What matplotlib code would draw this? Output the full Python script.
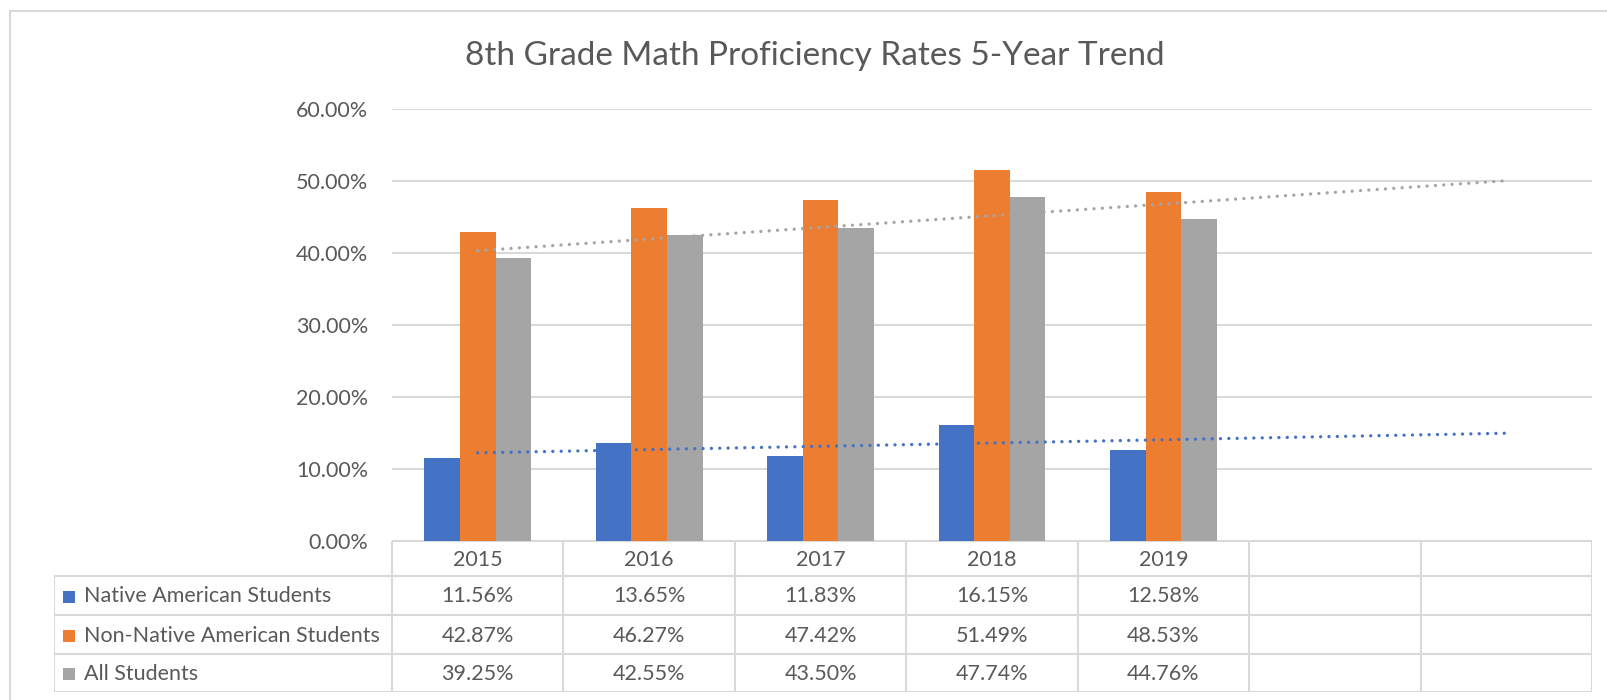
"""8th grade math proficiency: grouped bars + linear trends + Excel-style data table."""
import numpy as np
import matplotlib
matplotlib.use("Agg")
import matplotlib.pyplot as plt
from matplotlib.patches import Rectangle

plt.rcParams["font.family"] = ["Lato", "DejaVu Sans"]
plt.rcParams["lines.scale_dashes"] = False

years = ["2015", "2016", "2017", "2018", "2019"]
n_slots = 7  # Excel left two empty categories for the trend forecast
series = ["Native American Students", "Non-Native American Students", "All Students"]
native = [11.56, 13.65, 11.83, 16.15, 12.58]
non_native = [42.87, 46.27, 47.42, 51.49, 48.53]
all_students = [39.25, 42.55, 43.50, 47.74, 44.76]
values = [native, non_native, all_students]
colors = ["#4472C4", "#ED7D31", "#A5A5A5"]
trend_for = [0, 2]  # series with a linear trendline

TXT = "#595959"
GRID = "#D9D9D9"
W, H = 1608, 700

fig = plt.figure(figsize=(W / 100, H / 100), dpi=100)


def px_axes(x0, y0, x1, y1):
    # pixel box (top-left origin) -> figure axes
    return fig.add_axes([x0 / W, 1 - y1 / H, (x1 - x0) / W, (y1 - y0) / H])


# outer chart border (chart is cropped on right/bottom)
fig.patches.append(Rectangle((10 / W, -0.1), 2, 1 - 11 / H + 0.1, transform=fig.transFigure,
                             fc="none", ec=GRID, lw=1.5))

# --- plot area ---
L, R, T, B = 392, 1592, 109, 541
ax = px_axes(L, T, R, B)
ax.set_xlim(-0.5, n_slots - 0.5)
ax.set_ylim(0, 60)
for s in ax.spines.values():
    s.set_visible(False)
ax.set_yticks(np.arange(0, 61, 10))
ax.set_yticklabels(["%.2f%%" % v for v in np.arange(0, 61, 10)], fontsize=15.5, color=TXT)
ax.tick_params(axis="y", length=0, pad=17)
ax.set_xticks([])
ax.grid(axis="y", color=GRID, lw=1.5)
ax.set_axisbelow(True)

bw = 0.208
x = np.arange(len(years))
for i, (vals, c) in enumerate(zip(values, colors)):
    ax.bar(x + (i - 1) * bw, vals, width=bw, color=c, zorder=2)

xt = np.array([0, n_slots - 1])
for i in trend_for:
    k, b0 = np.polyfit(x, values[i], 1)
    ax.plot(xt, k * xt + b0, color=colors[i], lw=2.4, ls=(0, (0.01, 6.0)),
            dash_capstyle="round", zorder=3)

fig.text(815 / W, 1 - 56 / H, "8th Grade Math Proficiency Rates 5-Year Trend",
         ha="center", va="center", fontsize=24, color=TXT)

# --- data table ---
TL = 54
rows = [541, 576, 615, 654, 692]
tab = px_axes(TL, rows[0], R, rows[-1])
unit = (R - L) / n_slots
tab.set_xlim(-0.5 - (L - TL) / unit, n_slots - 0.5)
tab.set_ylim(rows[-1], rows[0])
tab.axis("off")
lk = dict(color=GRID, lw=1.5, solid_capstyle="projecting")
x_left = -0.5 - (L - TL) / unit
for yb in rows[1:]:
    tab.plot([x_left, n_slots - 0.5], [yb, yb], **lk)
tab.plot([-0.5, n_slots - 0.5], [rows[0], rows[0]], **lk)
tab.plot([x_left, x_left], [rows[1], rows[-1]], **lk)
for j in range(n_slots + 1):
    tab.plot([j - 0.5, j - 0.5], [rows[0], rows[-1]], **lk)

for j, yr in enumerate(years):
    tab.text(j, (rows[0] + rows[1]) / 2 + 1, yr, ha="center", va="center", fontsize=15.5, color=TXT)

sq = 12 / unit
for r, (name, vals, c) in enumerate(zip(series, values, colors)):
    yc = (rows[r + 1] + rows[r + 2]) / 2 + 1
    tab.add_patch(Rectangle((x_left + 9 / unit, yc - 6), sq, 12, fc=c, ec="none"))
    tab.text(x_left + 30 / unit, yc, name, ha="left", va="center", fontsize=15.5, color=TXT)
    for j, v in enumerate(vals):
        tab.text(j, yc, "%.2f%%" % v, ha="center", va="center", fontsize=15.5, color=TXT)

fig.savefig("out.png", dpi=100)
